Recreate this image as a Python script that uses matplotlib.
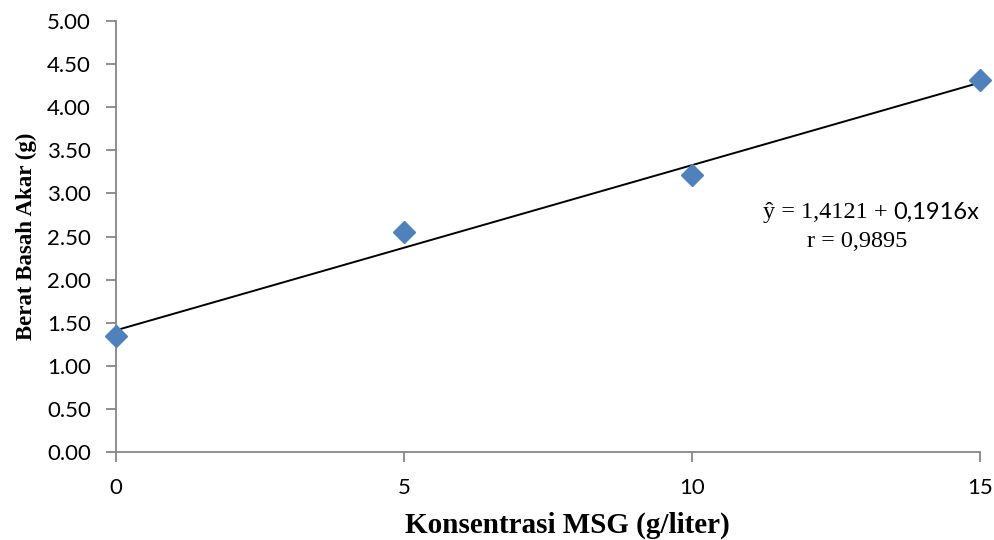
import matplotlib.pyplot as plt

# data
konsentrasi = [0, 5, 10, 15]
berat_akar = [1.34, 2.55, 3.21, 4.32]

# regression line from the equation shown on the chart
a = 1.4121
b = 0.1916
x_line = [0, 15]
y_line = [a + b * x for x in x_line]

yticks = [0, 0.5, 1, 1.5, 2, 2.5, 3, 3.5, 4, 4.5, 5]
xticks = [0, 5, 10, 15]

fig = plt.figure(figsize=(9.95, 5.4), dpi=100)
ax = fig.add_axes([0.1166, 0.163, 0.8683, 0.798])

ax.plot(x_line, y_line, color="black", linewidth=1.4, zorder=2)
ax.plot(konsentrasi, berat_akar, linestyle="none", marker="D", markersize=11,
        color="#4F81BD", zorder=3, clip_on=False)

ax.set_xlim(0, 15)
ax.set_ylim(0, 5)
ax.set_xticks(xticks)
ax.set_yticks(yticks)
ax.set_yticklabels([f"{v:.2f}" for v in yticks])

for side in ["top", "right"]:
    ax.spines[side].set_visible(False)
for side in ["left", "bottom"]:
    ax.spines[side].set_color("#868686")
    ax.spines[side].set_linewidth(1.3)
ax.tick_params(direction="out", length=7, width=1.3, color="#868686",
               labelsize=16)
ax.tick_params(axis="x", pad=12)
ax.tick_params(axis="y", pad=11)
for lab in ax.get_xticklabels() + ax.get_yticklabels():
    lab.set_fontfamily("Lato")

ax.set_xlabel("Konsentrasi MSG (g/liter)", fontfamily="Liberation Serif",
              fontweight="bold", fontsize=21)
ax.xaxis.set_label_coords(0.523, -0.138)
ax.set_ylabel("Berat Basah Akar (g)", fontfamily="Liberation Serif",
              fontweight="bold", fontsize=16.5, labelpad=7)

ax.text(13.5, 2.78, "ŷ = 1,4121 + ", fontfamily="Liberation Serif",
        fontsize=17.5, ha="right", va="center")
ax.text(13.5, 2.78, "0,1916x", fontfamily="Lato",
        fontsize=17, ha="left", va="center")
ax.text(12.86, 2.44, "r = 0,9895", fontfamily="Liberation Serif",
        fontsize=17.5, ha="center", va="center")

fig.savefig("out.png", dpi=100)
